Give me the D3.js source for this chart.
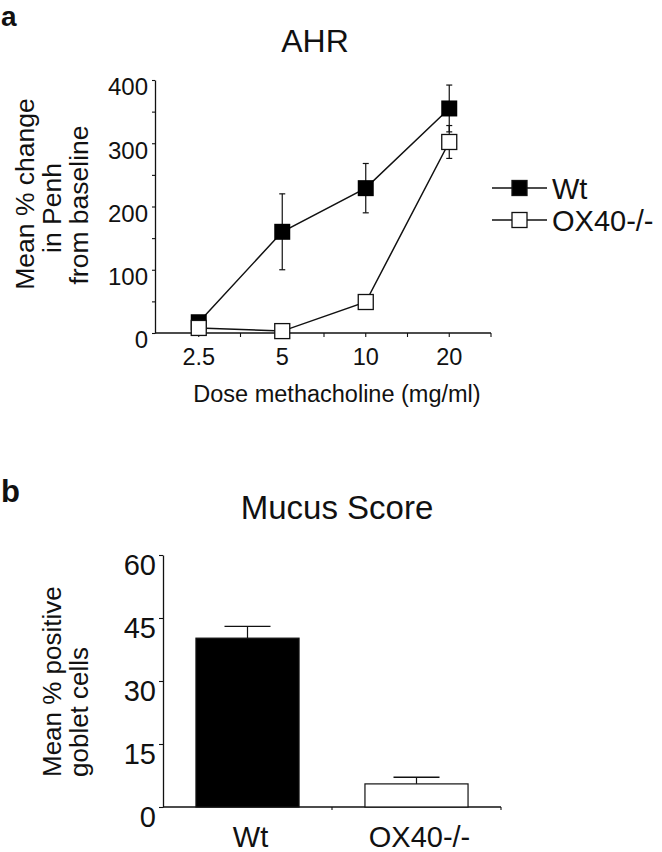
<!DOCTYPE html>
<html>
<head>
<meta charset="utf-8">
<script src="https://cdn.jsdelivr.net/npm/d3@7"></script>
<style>
  html, body { margin: 0; padding: 0; background: #fff; }
  svg { display: block; }
  text { font-family: "Liberation Sans", Arial, Helvetica, sans-serif; fill: #111; }
</style>
</head>
<body>
<svg id="chart" width="662" height="852"></svg>
<script>
// ---------- Data: panel a (AHR) ----------
const doses = ["2.5", "5", "10", "20"];
const wtPenh = [17, 160, 229, 355];
const wtPenhErr = [0, 60, 39, 37];
const koPenh = [8, 3, 49, 302];
const koPenhErr = [0, 0, 5, 26];
const ahrTicks = [0, 100, 200, 300, 400];
const ahrMinorTicks = [0, 50, 100, 150, 200, 250, 300, 350, 400];

// ---------- Data: panel b (Mucus Score) ----------
const groups = ["Wt", "OX40-/-"];
const mucusMean = [40.2, 5.5];
const mucusErr = [2.8, 1.6];
const mucusTicks = [0, 15, 30, 45, 60];

const svg = d3.select("#chart");
const ink = "#111";

// Panel letters
svg.append("text").attr("x", 1).attr("y", 26).attr("font-size", 28).attr("font-weight", "bold").text("a");
svg.append("text").attr("x", 1).attr("y", 502).attr("font-size", 31).attr("font-weight", "bold").text("b");

// ================= Panel a =================
const gA = svg.append("g");
const xA = d3.scaleBand().domain(doses).range([157, 491]).padding(0);
const yA = d3.scaleLinear().domain([0, 400]).range([333, 80]);
const cx = d => xA(d) + xA.bandwidth() / 2;

gA.append("text").attr("x", 315).attr("y", 52).attr("text-anchor", "middle")
  .attr("font-size", 32).text("AHR");

// y axis (minor ticks every 50, labels every 100)
const yAxisA = d3.axisLeft(yA).tickValues(ahrMinorTicks).tickSize(3).tickSizeOuter(0)
  .tickFormat(d => ahrTicks.includes(d) ? d : "");
const yAg = gA.append("g").attr("transform", "translate(155,0)").call(yAxisA);
yAg.select(".domain").attr("stroke", ink).attr("stroke-width", 1.3);
yAg.selectAll(".tick line").attr("stroke", ink).attr("stroke-width", 1.1);
yAg.selectAll(".tick text").attr("font-size", 24).attr("fill", ink)
  .attr("x", -7).attr("dy", "0.62em").style("font-family", '"Liberation Sans", Arial, sans-serif');

// x axis: line, ticks at band centers and edges
const xLineY = yA(0);
gA.append("line").attr("x1", 155).attr("x2", 491).attr("y1", xLineY).attr("y2", xLineY)
  .attr("stroke", ink).attr("stroke-width", 1.3);
const edgeTicks = doses.slice(1).map(d => xA(d)).concat([xA.range()[1]]);
const centerTicks = doses.map(cx);
gA.selectAll(".xtick").data(edgeTicks.concat(centerTicks)).join("line")
  .attr("x1", d => d).attr("x2", d => d).attr("y1", xLineY).attr("y2", xLineY + 4)
  .attr("stroke", ink).attr("stroke-width", 1.1);
gA.selectAll(".xlab").data(doses).join("text")
  .attr("x", d => cx(d)).attr("y", 365).attr("text-anchor", "middle")
  .attr("font-size", 23.5).text(d => d);
gA.append("text").attr("x", 337).attr("y", 402).attr("text-anchor", "middle")
  .attr("font-size", 23.5).text("Dose methacholine (mg/ml)");

// y title
const yTitleA = [["Mean % change", 34, 194], ["in Penh", 61, 208], ["from baseline", 88, 205]];
yTitleA.forEach(([t, x, y]) => {
  gA.append("text").attr("transform", `translate(${x},${y}) rotate(-90)`)
    .attr("text-anchor", "middle").attr("font-size", 26.5).text(t);
});

// series
const line = d3.line().x(d => cx(d.dose)).y(d => yA(d.v));
const wtData = doses.map((d, i) => ({dose: d, v: wtPenh[i], e: wtPenhErr[i]}));
const koData = doses.map((d, i) => ({dose: d, v: koPenh[i], e: koPenhErr[i]}));
const ms = 16;

function drawErr(g, data) {
  data.filter(d => d.e > 0).forEach(d => {
    const x = cx(d.dose);
    g.append("line").attr("x1", x).attr("x2", x).attr("y1", yA(d.v + d.e)).attr("y2", yA(d.v - d.e))
      .attr("stroke", ink).attr("stroke-width", 1.2);
    [d.v + d.e, d.v - d.e].forEach(v => {
      g.append("line").attr("x1", x - 3).attr("x2", x + 3).attr("y1", yA(v)).attr("y2", yA(v))
        .attr("stroke", ink).attr("stroke-width", 1.2);
    });
  });
}
drawErr(gA, wtData);
drawErr(gA, koData);
gA.append("path").datum(wtData).attr("d", line).attr("fill", "none").attr("stroke", ink).attr("stroke-width", 1.5);
gA.append("path").datum(koData).attr("d", line).attr("fill", "none").attr("stroke", ink).attr("stroke-width", 1.5);
gA.selectAll(".wt").data(wtData).join("rect")
  .attr("x", d => cx(d.dose) - ms / 2).attr("y", d => yA(d.v) - ms / 2)
  .attr("width", ms).attr("height", ms).attr("fill", "#000");
gA.selectAll(".ko").data(koData).join("rect")
  .attr("x", d => cx(d.dose) - (ms - 1) / 2).attr("y", d => yA(d.v) - (ms - 1) / 2)
  .attr("width", ms - 1).attr("height", ms - 1).attr("fill", "#fff").attr("stroke", ink).attr("stroke-width", 1.3);

// legend
const legend = [{name: "Wt", fill: "#000", y: 188}, {name: "OX40-/-", fill: "#fff", y: 220}];
legend.forEach(l => {
  gA.append("line").attr("x1", 492).attr("x2", 547).attr("y1", l.y).attr("y2", l.y)
    .attr("stroke", ink).attr("stroke-width", 1.5);
  gA.append("rect").attr("x", 519.5 - 7.5).attr("y", l.y - 7.5).attr("width", 15).attr("height", 15)
    .attr("fill", l.fill).attr("stroke", ink).attr("stroke-width", 1.3);
  gA.append("text").attr("x", 552).attr("y", l.y + 10.5).attr("font-size", 29).text(l.name);
});

// ================= Panel b =================
const gB = svg.append("g");
const xB = d3.scaleBand().domain(groups).range([163, 501]).padding(0);
const yB = d3.scaleLinear().domain([0, 60]).range([807, 555]);
const bw = xB.bandwidth() * 0.61;
const bcx = d => xB(d) + xB.bandwidth() / 2;

gB.append("text").attr("x", 337).attr("y", 519).attr("text-anchor", "middle")
  .attr("font-size", 33).text("Mucus Score");

const yAxisB = d3.axisLeft(yB).tickValues(mucusTicks).tickSize(4).tickSizeOuter(0);
const yBg = gB.append("g").attr("transform", "translate(163,0)").call(yAxisB);
yBg.select(".domain").attr("stroke", ink).attr("stroke-width", 1.3);
yBg.selectAll(".tick line").attr("stroke", ink).attr("stroke-width", 1.1);
yBg.selectAll(".tick text").attr("font-size", 29).attr("fill", ink)
  .attr("x", -7).attr("dy", "0.68em").style("font-family", '"Liberation Sans", Arial, sans-serif');

gB.append("line").attr("x1", 163).attr("x2", 501).attr("y1", yB(0)).attr("y2", yB(0))
  .attr("stroke", ink).attr("stroke-width", 1.3);
gB.selectAll(".bxt").data([xB(groups[1]), xB.range()[1]]).join("line")
  .attr("x1", d => d).attr("x2", d => d).attr("y1", yB(0)).attr("y2", yB(0) + 3)
  .attr("stroke", ink).attr("stroke-width", 1.1);

groups.forEach((g, i) => {
  const x = bcx(g);
  gB.append("line").attr("x1", x).attr("x2", x).attr("y1", yB(mucusMean[i])).attr("y2", yB(mucusMean[i] + mucusErr[i]))
    .attr("stroke", ink).attr("stroke-width", 1.2);
  gB.append("line").attr("x1", x - 23).attr("x2", x + 23)
    .attr("y1", yB(mucusMean[i] + mucusErr[i])).attr("y2", yB(mucusMean[i] + mucusErr[i]))
    .attr("stroke", ink).attr("stroke-width", 1.4);
});
gB.selectAll(".bar").data(groups).join("rect")
  .attr("x", d => bcx(d) - bw / 2).attr("width", bw)
  .attr("y", (d, i) => yB(mucusMean[i])).attr("height", (d, i) => yB(0) - yB(mucusMean[i]))
  .attr("fill", (d, i) => i === 0 ? "#000" : "#fff")
  .attr("stroke", ink).attr("stroke-width", 1.2);

gB.selectAll(".blab").data(groups).join("text")
  .attr("x", d => bcx(d) + 3).attr("y", 847).attr("text-anchor", "middle")
  .attr("font-size", 29).text(d => d);

const yTitleB = [["Mean % positive", 61], ["goblet cells", 88]];
yTitleB.forEach(([t, x]) => {
  gB.append("text").attr("transform", `translate(${x},777) rotate(-90)`)
    .attr("text-anchor", "start").attr("font-size", 26).text(t);
});
</script>
</body>
</html>
